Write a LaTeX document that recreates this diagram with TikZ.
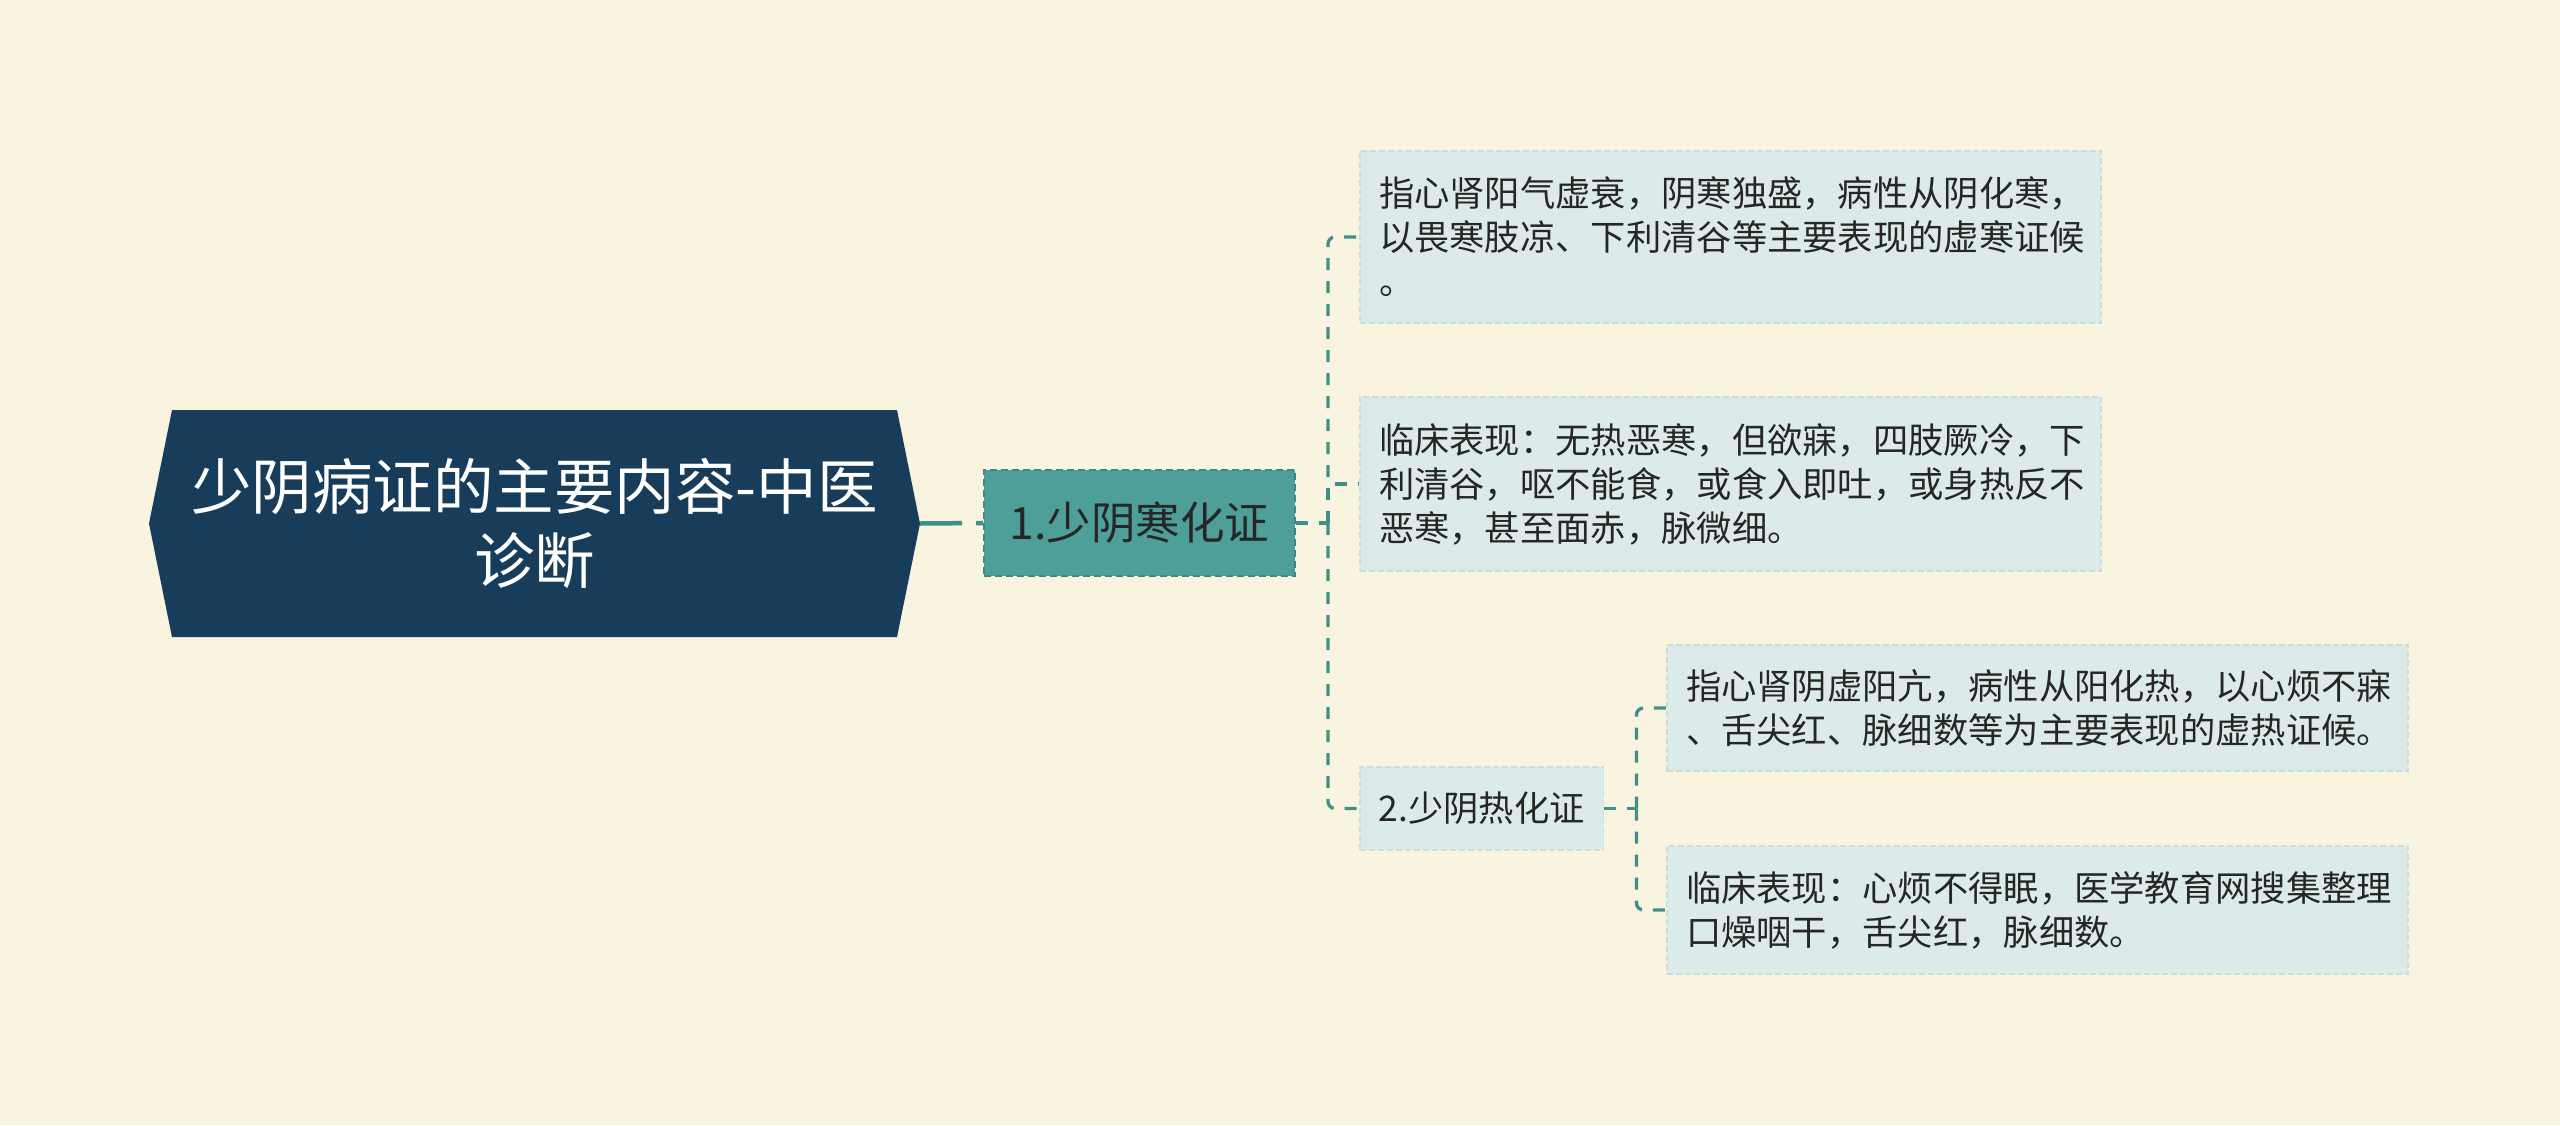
\documentclass[tikz,border=0pt]{standalone}
\usepackage{fontspec}
\newfontfamily\cjk{Noto Sans CJK SC}
\definecolor{bgc}{HTML}{F9F4E0}
\definecolor{rootc}{HTML}{183D5B}
\definecolor{tealc}{HTML}{4E9E9A}
\definecolor{tealb}{HTML}{3E8784}
\definecolor{leafc}{HTML}{DCEBEA}
\definecolor{leafb}{HTML}{C8DEDC}
\definecolor{connc}{HTML}{408F8B}
\definecolor{txtc}{HTML}{262626}
\begin{document}
\begin{tikzpicture}[x=1pt,y=-1pt,
  every node/.style={font=\cjk},
  conn/.style={draw=connc,line width=3.3pt,dash pattern=on 12pt off 11pt},
  mainconn/.style={draw=connc,line width=4.5pt,dash pattern=on 42pt off 14pt},
  leafbox/.style={fill=leafc,draw=leafb,line width=1.5pt,dash pattern=on 6pt off 3pt,
    text=txtc,align=left,text width=703pt,inner xsep=19pt,inner ysep=0pt,
    font=\cjk\fontsize{35.3}{44}\selectfont},
  subbox/.style={fill=leafc,draw=leafb,line width=1.5pt,dash pattern=on 6pt off 3pt,
    text=txtc,inner xsep=19pt,inner ysep=0pt,font=\cjk\fontsize{35.3}{44}\selectfont},
  topicbox/.style={fill=tealc,draw=tealb,line width=2pt,dash pattern=on 7pt off 4pt,
    text=txtc,inner sep=0pt,font=\cjk\fontsize{44.5}{52}\selectfont}
]
\fill[bgc] (0,0) rectangle (2560,1125);
\useasboundingbox (0,0) rectangle (2560,1125);

% root hexagon
\fill[rootc] (172,410) -- (897,410) -- (920,523.5) -- (897,637) -- (172,637) -- (149,523.5) -- cycle;
\node[text=white,align=center,inner sep=0pt,minimum width=771pt,minimum height=227pt,
  font=\cjk\fontsize{60.5}{74}\selectfont] (root) at (534.5,523.5)
  {少阴病证的主要内容-中医\\诊断};

% topic 1
\node[topicbox,minimum width=311pt,minimum height=106pt] (n1) at (1139.5,523) {1.少阴寒化证};

% leaves of topic 1
\node[leafbox,minimum height=172pt] (la) at (1730.5,237)
  {指心肾阳气虚衰，阴寒独盛，病性从阴化寒，\\以畏寒肢凉、下利清谷等主要表现的虚寒证候\\。};
\node[leafbox,minimum height=174pt] (lb) at (1730.5,484)
  {临床表现：无热恶寒，但欲寐，四肢厥冷，下\\利清谷，呕不能食，或食入即吐，或身热反不\\恶寒，甚至面赤，脉微细。};

% topic 2
\node[subbox,minimum width=243pt,minimum height=83pt,anchor=west] (n2) at (1359,808.5) {2.少阴热化证};

% leaves of topic 2
\node[leafbox,minimum height=126pt] (lc) at (2037.5,708)
  {指心肾阴虚阳亢，病性从阳化热，以心烦不寐\\、舌尖红、脉细数等为主要表现的虚热证候。};
\node[leafbox,minimum height=128pt] (ld) at (2037.5,910)
  {临床表现：心烦不得眠，医学教育网搜集整理\\口燥咽干，舌尖红，脉细数。};

% junctions
\coordinate (j1) at ([xshift=32pt]n1.east);
\coordinate (j2) at ([xshift=32pt]n2.east);

% connectors
\draw[mainconn] (920,523.5) -- (n1.west);
\draw[conn] (n1.east) -- (j1);
\draw[conn,rounded corners=7pt] (j1) |- (la.west);
\draw[conn] (j1) |- (lb.west);
\draw[conn,rounded corners=7pt] (j1) |- (n2.west);
\draw[conn] (n2.east) -- (j2);
\draw[conn,rounded corners=7pt] (j2) |- (lc.west);
\draw[conn,rounded corners=7pt] (j2) |- (ld.west);
\end{tikzpicture}
\end{document}
